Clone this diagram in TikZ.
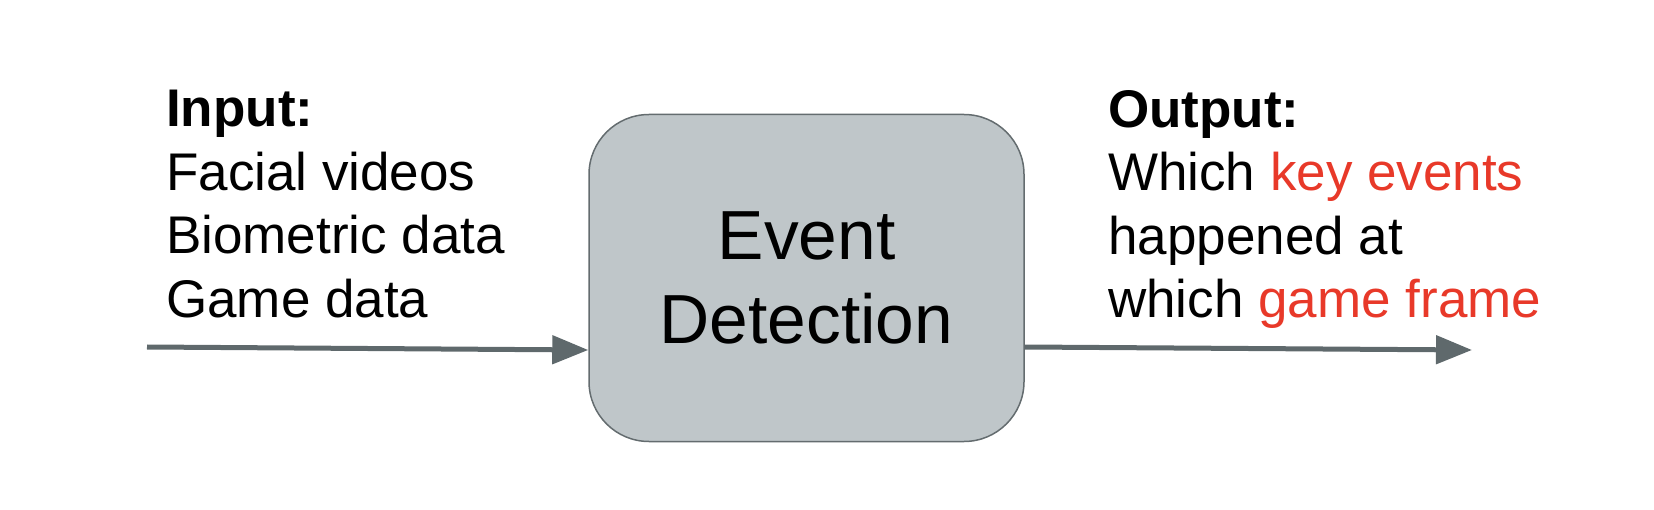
\documentclass[tikz,border=0pt]{standalone}
\usepackage{fontspec}
\setmainfont{Liberation Sans}
\usepackage{xcolor}
\usetikzlibrary{positioning,arrows.meta}
\definecolor{boxgray}{RGB}{191,198,201}
\definecolor{edgegray}{RGB}{100,108,111}
\definecolor{arrgray}{RGB}{95,105,108}
\definecolor{keyred}{RGB}{232,57,41}
\newcommand{\hl}[1]{\textcolor{keyred}{#1}}
\tikzset{
  evbox/.style ={draw=edgegray, fill=boxgray, rounded corners=60pt, line width=1.5pt,
                 minimum width=435pt, minimum height=327pt, align=center,
                 font=\fontsize{69.5}{84}\selectfont},
  io/.style    ={align=left, inner sep=0pt, anchor=north west,
                 font=\fontsize{53}{63.5}\selectfont},
  ar/.style    ={-{Triangle[length=36pt,width=28pt]}, draw=arrgray, line width=5pt},
}
\begin{document}
\begin{tikzpicture}[x=1pt,y=-1pt]
\useasboundingbox (0,0) rectangle (1654,510);
\node[evbox] (evt) at (806.5,278) {Event\\ Detection};
\node[io] (inp) at (166,90) {\textbf{Input:}\\ Facial videos\\ Biometric data\\ Game data};
\node[io] (outp) at (1108,90) {\textbf{Output:}\\ Which \hl{key events}\\ happened at\\ which \hl{game frame}};

\coordinate (inS) at (147,347);
\coordinate (outE) at (1472,350);
\draw[ar] (inS) -- ([yshift=-72pt]evt.west);
\draw[ar] ([yshift=-69pt]evt.east) -- (outE);
\end{tikzpicture}
\end{document}
